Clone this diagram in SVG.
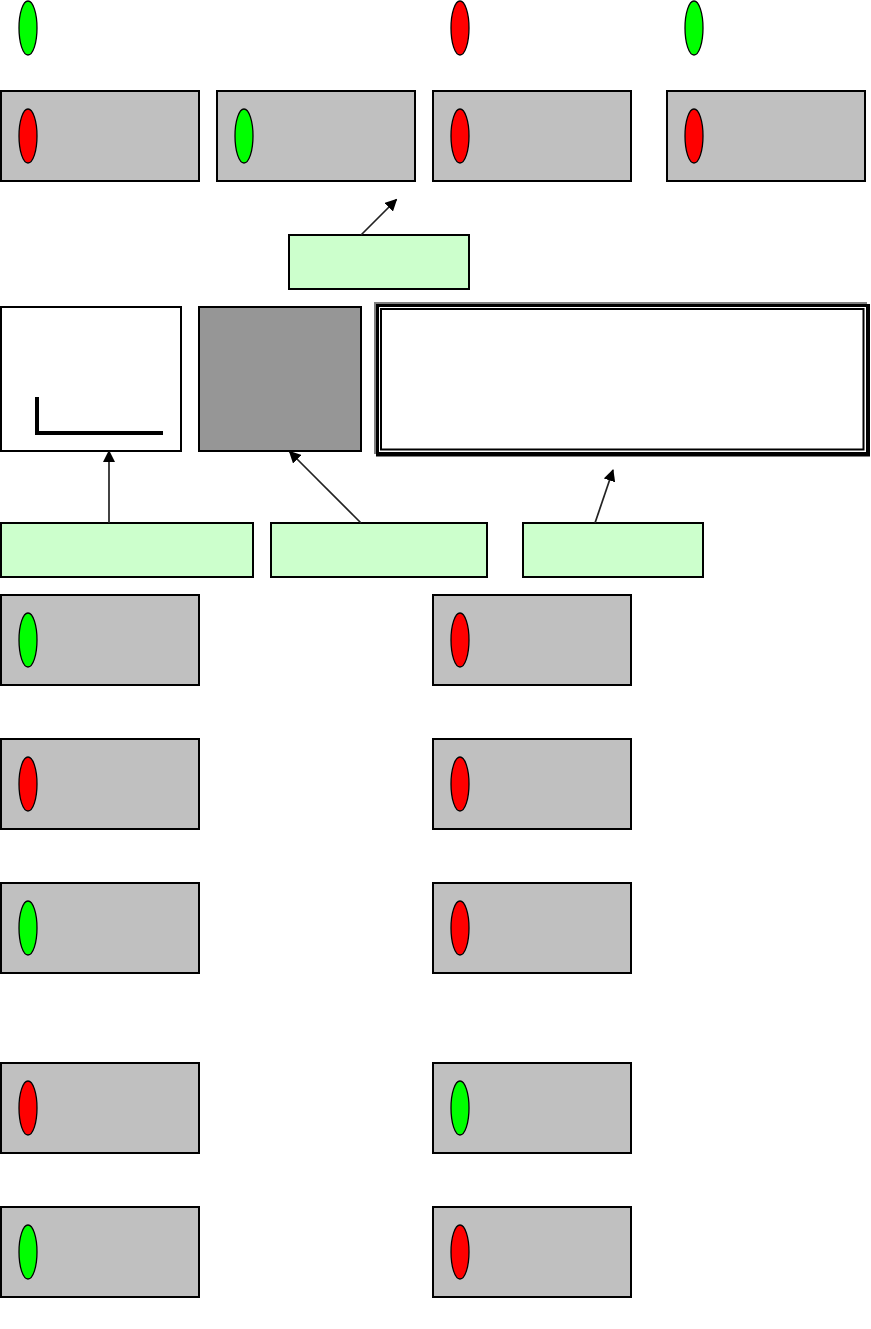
<svg xmlns="http://www.w3.org/2000/svg" width="871" height="1329" viewBox="0 0 871 1329">
<style>
.box{fill:#c0c0c0;stroke:#000;stroke-width:2}
.note{fill:#ccffcc;stroke:#000;stroke-width:2}
.g{fill:#00ff00;stroke:#000;stroke-width:1.3}
.r{fill:#ff0000;stroke:#000;stroke-width:1.3}
.c{stroke:#222;stroke-width:1.7;fill:none;marker-end:url(#a)}
</style>
<defs><marker id="a" markerUnits="userSpaceOnUse" markerWidth="12" markerHeight="12" refX="11" refY="6" orient="auto"><path d="M0 0L12 6L0 12Z" fill="#000"/></marker></defs>
<g id="lamp-1"><ellipse class="g" cx="28" cy="28" rx="9" ry="27"/></g>
<g id="lamp-2"><ellipse class="r" cx="460" cy="28" rx="9" ry="27"/></g>
<g id="lamp-3"><ellipse class="g" cx="694" cy="28" rx="9" ry="27"/></g>
<g id="box-1"><rect class="box" x="1" y="91" width="198" height="90"/><ellipse class="r" cx="28" cy="136" rx="9" ry="27"/></g>
<g id="box-2"><rect class="box" x="217" y="91" width="198" height="90"/><ellipse class="g" cx="244" cy="136" rx="9" ry="27"/></g>
<g id="box-3"><rect class="box" x="433" y="91" width="198" height="90"/><ellipse class="r" cx="460" cy="136" rx="9" ry="27"/></g>
<g id="box-4"><rect class="box" x="667" y="91" width="198" height="90"/><ellipse class="r" cx="694" cy="136" rx="9" ry="27"/></g>
<g id="note-1"><rect class="note" x="289" y="235" width="180" height="54"/></g>
<g id="panel-1"><rect x="1" y="307" width="180" height="144" fill="#fff" stroke="#000" stroke-width="2"/><path d="M37 397V433H163" fill="none" stroke="#000" stroke-width="4"/></g>
<g id="panel-2"><rect x="199" y="307" width="162" height="144" fill="#969696" stroke="#000" stroke-width="2"/></g>
<g id="panel-3">
<rect x="374" y="302" width="493" height="152" fill="#808080"/>
<rect x="376" y="304" width="494" height="152.500" fill="#000"/>
<rect x="379" y="307" width="487" height="145" fill="#fff"/>
<rect x="381" y="309" width="482.500" height="140.500" fill="#fff" stroke="#000" stroke-width="2"/>
</g>
<g id="note-2"><rect class="note" x="1" y="523" width="252" height="54"/></g>
<g id="note-3"><rect class="note" x="271" y="523" width="216" height="54"/></g>
<g id="note-4"><rect class="note" x="523" y="523" width="180" height="54"/></g>
<g id="box-5"><rect class="box" x="1" y="595" width="198" height="90"/><ellipse class="g" cx="28" cy="640" rx="9" ry="27"/></g>
<g id="box-6"><rect class="box" x="433" y="595" width="198" height="90"/><ellipse class="r" cx="460" cy="640" rx="9" ry="27"/></g>
<g id="box-7"><rect class="box" x="1" y="739" width="198" height="90"/><ellipse class="r" cx="28" cy="784" rx="9" ry="27"/></g>
<g id="box-8"><rect class="box" x="433" y="739" width="198" height="90"/><ellipse class="r" cx="460" cy="784" rx="9" ry="27"/></g>
<g id="box-9"><rect class="box" x="1" y="883" width="198" height="90"/><ellipse class="g" cx="28" cy="928" rx="9" ry="27"/></g>
<g id="box-10"><rect class="box" x="433" y="883" width="198" height="90"/><ellipse class="r" cx="460" cy="928" rx="9" ry="27"/></g>
<g id="box-11"><rect class="box" x="1" y="1063" width="198" height="90"/><ellipse class="r" cx="28" cy="1108" rx="9" ry="27"/></g>
<g id="box-12"><rect class="box" x="433" y="1063" width="198" height="90"/><ellipse class="g" cx="460" cy="1108" rx="9" ry="27"/></g>
<g id="box-13"><rect class="box" x="1" y="1207" width="198" height="90"/><ellipse class="g" cx="28" cy="1252" rx="9" ry="27"/></g>
<g id="box-14"><rect class="box" x="433" y="1207" width="198" height="90"/><ellipse class="r" cx="460" cy="1252" rx="9" ry="27"/></g>
<g id="connectors">
<path class="c" d="M361 235L396.500 199.500"/>
<path class="c" d="M109 523V451"/>
<path class="c" d="M361 523L289.500 451.500"/>
<path class="c" d="M595 523L613 470"/>
</g>
</svg>
